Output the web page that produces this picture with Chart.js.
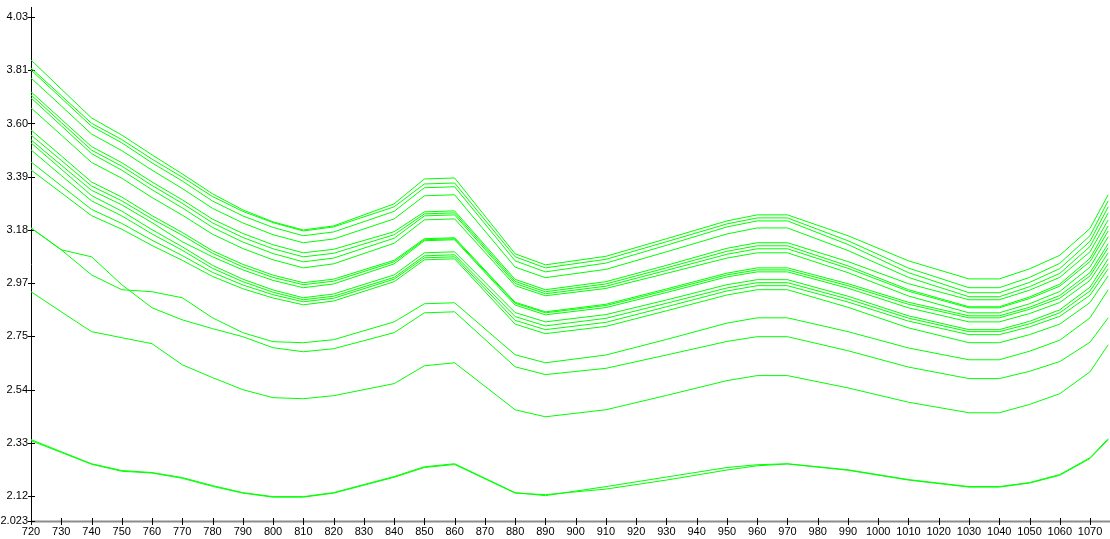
<!DOCTYPE html>
<html>
<head>
<meta charset="utf-8">
<script src="https://cdn.jsdelivr.net/npm/chart.js@4.4.1/dist/chart.umd.min.js"></script>
<style>
  html, body { margin: 0; padding: 0; background: #fff; }
  #wrap { width: 1110px; height: 539px; position: relative; }
</style>
</head>
<body>
<div id="wrap"><canvas id="grafico"></canvas></div>
<script>
// wavelengths (nm) of the sampled points
const wavelengths = [720, 730, 740, 750, 760, 770, 780, 790, 800, 810, 820, 840, 850, 860, 880, 890, 910, 930, 950, 960, 970, 990, 1010, 1030, 1040, 1050, 1060, 1070, 1076];

// axis ticks
const xTickValues = [720, 730, 740, 750, 760, 770, 780, 790, 800, 810, 820, 830, 840, 850, 860, 870, 880, 890, 900, 910, 920, 930, 940, 950, 960, 970, 980, 990, 1000, 1010, 1020, 1030, 1040, 1050, 1060, 1070];
const yTickValues = [2.023, 2.122, 2.334, 2.546, 2.758, 2.97, 3.182, 3.394, 3.606, 3.818, 4.03];
const yTickLabels = ['2.023', '2.12', '2.33', '2.54', '2.75', '2.97', '3.18', '3.39', '3.60', '3.81', '4.03'];

// spectra
const a1 = [3.859, 3.743, 3.628, 3.560, 3.481, 3.405, 3.326, 3.262, 3.214, 3.182, 3.198, 3.286, 3.385, 3.389, 3.087, 3.043, 3.077, 3.147, 3.218, 3.242, 3.242, 3.159, 3.059, 2.987, 2.987, 3.027, 3.081, 3.188, 3.322];
const a2 = [3.827, 3.717, 3.607, 3.542, 3.464, 3.392, 3.315, 3.256, 3.211, 3.178, 3.194, 3.274, 3.365, 3.369, 3.075, 3.031, 3.065, 3.135, 3.206, 3.230, 3.230, 3.139, 3.030, 2.952, 2.952, 2.993, 3.049, 3.159, 3.298];
const a3 = [3.819, 3.707, 3.595, 3.529, 3.449, 3.377, 3.297, 3.238, 3.192, 3.159, 3.174, 3.256, 3.350, 3.354, 3.059, 3.015, 3.050, 3.121, 3.194, 3.218, 3.218, 3.124, 3.012, 2.932, 2.932, 2.973, 3.028, 3.137, 3.274];
const a4 = [3.787, 3.676, 3.564, 3.498, 3.420, 3.347, 3.268, 3.210, 3.163, 3.131, 3.146, 3.226, 3.318, 3.322, 3.034, 2.992, 3.025, 3.095, 3.166, 3.190, 3.190, 3.100, 2.993, 2.916, 2.916, 2.956, 3.009, 3.116, 3.250];
const b1 = [3.732, 3.623, 3.514, 3.450, 3.373, 3.302, 3.225, 3.168, 3.123, 3.091, 3.105, 3.175, 3.254, 3.258, 2.985, 2.944, 2.976, 3.041, 3.109, 3.131, 3.131, 3.056, 2.968, 2.904, 2.904, 2.942, 2.993, 3.095, 3.222];
const b2 = [3.720, 3.610, 3.500, 3.436, 3.359, 3.288, 3.210, 3.152, 3.107, 3.075, 3.089, 3.163, 3.246, 3.250, 2.977, 2.936, 2.967, 3.031, 3.097, 3.119, 3.119, 3.039, 2.944, 2.876, 2.876, 2.915, 2.966, 3.069, 3.198];
const b3 = [3.708, 3.597, 3.486, 3.420, 3.342, 3.270, 3.192, 3.134, 3.088, 3.055, 3.070, 3.149, 3.238, 3.242, 2.969, 2.928, 2.958, 3.021, 3.085, 3.107, 3.107, 3.029, 2.938, 2.872, 2.872, 2.909, 2.958, 3.056, 3.178];
const b4 = [3.668, 3.560, 3.451, 3.388, 3.311, 3.241, 3.165, 3.108, 3.063, 3.031, 3.047, 3.129, 3.222, 3.226, 2.960, 2.920, 2.949, 3.009, 3.070, 3.091, 3.091, 3.012, 2.919, 2.852, 2.852, 2.888, 2.937, 3.034, 3.155];
const c1 = [3.580, 3.477, 3.373, 3.313, 3.239, 3.172, 3.099, 3.045, 3.002, 2.972, 2.986, 3.061, 3.147, 3.151, 2.894, 2.856, 2.886, 2.947, 3.010, 3.031, 3.031, 2.968, 2.894, 2.840, 2.840, 2.874, 2.921, 3.012, 3.127];
const c2 = [3.560, 3.459, 3.357, 3.298, 3.226, 3.161, 3.089, 3.035, 2.993, 2.964, 2.978, 3.055, 3.143, 3.147, 2.890, 2.852, 2.881, 2.941, 3.003, 3.023, 3.023, 2.960, 2.886, 2.832, 2.832, 2.866, 2.910, 2.999, 3.111];
const c3 = [3.541, 3.440, 3.340, 3.282, 3.211, 3.135, 3.075, 3.023, 2.981, 2.952, 2.967, 3.047, 3.139, 3.143, 2.883, 2.844, 2.873, 2.933, 2.995, 3.015, 3.015, 2.950, 2.872, 2.816, 2.816, 2.849, 2.893, 2.981, 3.091];
const d1 = [3.529, 3.424, 3.319, 3.257, 3.183, 3.115, 3.041, 2.986, 2.943, 2.912, 2.927, 3.003, 3.091, 3.095, 2.853, 2.816, 2.845, 2.903, 2.964, 2.984, 2.984, 2.918, 2.840, 2.785, 2.785, 2.818, 2.864, 2.954, 3.067];
const d2 = [3.501, 3.399, 3.298, 3.238, 3.166, 3.101, 3.029, 2.976, 2.934, 2.904, 2.918, 2.993, 3.079, 3.083, 2.837, 2.800, 2.830, 2.890, 2.951, 2.972, 2.972, 2.907, 2.831, 2.777, 2.777, 2.808, 2.852, 2.939, 3.047];
const d3 = [3.453, 3.358, 3.264, 3.208, 3.141, 3.080, 3.013, 2.963, 2.924, 2.896, 2.910, 2.986, 3.071, 3.075, 2.822, 2.785, 2.814, 2.876, 2.939, 2.960, 2.960, 2.895, 2.819, 2.765, 2.765, 2.796, 2.838, 2.922, 3.027];
const d4 = [3.421, 3.330, 3.239, 3.185, 3.120, 3.061, 2.997, 2.948, 2.911, 2.884, 2.899, 2.976, 3.063, 3.067, 2.807, 2.769, 2.798, 2.860, 2.923, 2.944, 2.944, 2.874, 2.792, 2.733, 2.733, 2.765, 2.807, 2.893, 2.999];
const e1 = [3.190, 3.103, 3.003, 2.944, 2.936, 2.912, 2.832, 2.773, 2.737, 2.733, 2.745, 2.816, 2.888, 2.892, 2.685, 2.653, 2.684, 2.746, 2.811, 2.832, 2.832, 2.777, 2.712, 2.665, 2.665, 2.699, 2.743, 2.832, 2.944];
const e2 = [3.190, 3.103, 3.075, 2.964, 2.872, 2.824, 2.789, 2.757, 2.713, 2.697, 2.709, 2.773, 2.852, 2.856, 2.637, 2.606, 2.631, 2.684, 2.738, 2.757, 2.757, 2.701, 2.636, 2.590, 2.590, 2.619, 2.658, 2.735, 2.832];
const g1 = [2.936, 2.856, 2.777, 2.753, 2.729, 2.645, 2.594, 2.546, 2.514, 2.510, 2.522, 2.570, 2.641, 2.653, 2.466, 2.438, 2.466, 2.523, 2.582, 2.602, 2.602, 2.553, 2.496, 2.454, 2.454, 2.487, 2.530, 2.617, 2.725];
const f1 = [2.347, 2.299, 2.251, 2.224, 2.216, 2.196, 2.164, 2.136, 2.120, 2.120, 2.136, 2.200, 2.239, 2.251, 2.136, 2.124, 2.160, 2.198, 2.236, 2.247, 2.251, 2.227, 2.188, 2.160, 2.160, 2.176, 2.208, 2.275, 2.351];
const f2 = [2.343, 2.296, 2.249, 2.221, 2.214, 2.193, 2.161, 2.134, 2.118, 2.118, 2.134, 2.197, 2.236, 2.248, 2.134, 2.128, 2.150, 2.186, 2.226, 2.243, 2.250, 2.225, 2.186, 2.158, 2.158, 2.174, 2.205, 2.272, 2.347];

const series = [a1, a2, a3, a4, b1, b2, b3, b4, c1, c2, c3, d1, d2, d3, d4, e1, e2, g1, f1, f2];

// axes drawn by hand: black y line, grey x line, ticks crossing the line
const marcasEjes = {
    id: 'marcasEjes',
    beforeDatasetsDraw(chart) {
        const { ctx, chartArea, scales: { x, y } } = chart;
        const bottom = Math.round(chartArea.bottom);
        const left = Math.round(chartArea.left);
        ctx.save();
        ctx.strokeStyle = '#8c8c8c';
        ctx.lineWidth = 2;
        ctx.beginPath();
        ctx.moveTo(left, bottom + 0.5);
        ctx.lineTo(chart.width, bottom + 0.5);
        ctx.stroke();

        ctx.strokeStyle = '#000';
        ctx.lineWidth = 1;
        ctx.beginPath();
        x.ticks.forEach(t => {
            const px = Math.round(x.getPixelForValue(t.value)) + 0.5;
            ctx.moveTo(px, bottom - 3);
            ctx.lineTo(px, bottom + 4);
        });
        ctx.moveTo(left + 0.5, 7);
        ctx.lineTo(left + 0.5, bottom + 1);
        y.ticks.forEach(t => {
            const py = Math.round(y.getPixelForValue(t.value)) + 0.5;
            ctx.moveTo(left - 3, py);
            ctx.lineTo(left + 4, py);
        });
        ctx.stroke();
        ctx.restore();
    }
};

const fuente = { family: "'Liberation Sans', Arial, sans-serif", size: 11 };

new Chart(document.getElementById('grafico'), {
    type: 'line',
    data: {
        datasets: series.map(s => ({
            data: s.map((v, i) => ({ x: wavelengths[i], y: v })),
            borderColor: '#00ff00',
            borderWidth: 1,
            pointRadius: 0,
            tension: 0,
            fill: false
        }))
    },
    options: {
        responsive: true,
        maintainAspectRatio: false,
        devicePixelRatio: 1,
        animation: false,
        events: [],
        layout: { padding: { top: 17, left: 0, right: 0, bottom: 0 }, autoPadding: false },
        plugins: { legend: { display: false }, tooltip: { enabled: false } },
        scales: {
            x: {
                type: 'linear',
                min: 720,
                max: 1076.6,
                grid: { display: false, drawTicks: false },
                border: { display: false },
                afterBuildTicks: s => { s.ticks = xTickValues.map(v => ({ value: v })); },
                afterFit: s => { s.height = 18; },
                ticks: {
                    autoSkip: false,
                    maxRotation: 0,
                    padding: 4,
                    color: '#000',
                    font: fuente,
                    callback: v => String(v)
                }
            },
            y: {
                type: 'linear',
                min: 2.023,
                max: 4.03,
                grid: { display: false, drawTicks: false },
                border: { display: false },
                afterBuildTicks: s => { s.ticks = yTickValues.map(v => ({ value: v })); },
                afterFit: s => { s.width = 31; },
                ticks: {
                    autoSkip: false,
                    padding: 3,
                    color: '#000',
                    font: fuente,
                    callback: v => yTickLabels[yTickValues.indexOf(v)]
                }
            }
        }
    },
    plugins: [marcasEjes]
});
</script>
</body>
</html>
